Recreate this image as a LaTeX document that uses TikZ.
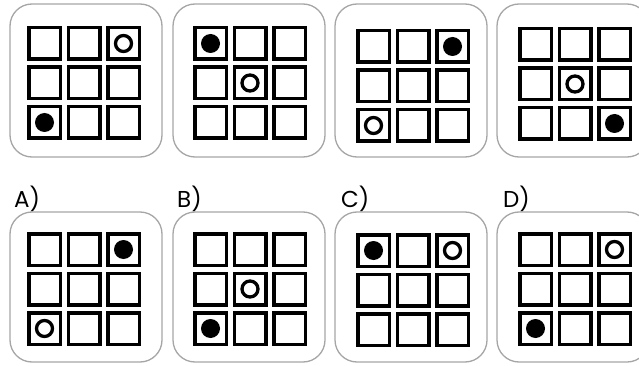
\documentclass[tikz,border=0pt]{standalone}
\usepackage{fontspec}
\setmainfont{Poppins}
\newcommand\mypanel[5]{% panel left, panel top, grid x, grid y, height
  \draw[panel] (#1,#2) rectangle ++(152,#5);
  \foreach \r in {0,1,2}{\foreach \c in {0,1,2}{
    \draw[cell] (#3+1.75+\c*39.5, #4+1.75+\r*39.5) rectangle ++(31.5,31.5);}}}
\newcommand\mydot[4]{\fill (#1+17.5+#4*39.5-39.5, #2+17.5+#3*39.5-39.5) circle (9.5pt);}
\newcommand\myring[4]{\draw[ring] (#1+17.5+#4*39.5-39.5, #2+17.5+#3*39.5-39.5) circle (8pt);}
\begin{document}
\begin{tikzpicture}[x=1pt,y=-1pt,
  panel/.style={draw=black!35, line width=1.3pt, rounded corners=22pt, fill=white},
  cell/.style={draw=black, line width=3.5pt},
  ring/.style={draw=black, line width=3.3pt},
  lbl/.style={font=\fontsize{23}{23}\selectfont, anchor=base west, inner sep=0pt}]
\useasboundingbox[fill=white] (0,0) rectangle (639,366);
% top row
\mypanel{10}{4}{27}{26}{153}
\myring{27}{26}{1}{3}\mydot{27}{26}{3}{1}
\mypanel{173}{4}{193}{26}{153}
\mydot{193}{26}{1}{1}\myring{193}{26}{2}{2}
\mypanel{335}{4}{356}{29}{153}
\mydot{356}{29}{1}{3}\myring{356}{29}{3}{1}
\mypanel{497}{4}{518}{27}{153}
\myring{518}{27}{2}{2}\mydot{518}{27}{3}{3}
% answers
\node[lbl] (la) at (14,207) {A)};
\node[lbl] (lb) at (177,207) {B)};
\node[lbl] (lc) at (341,207) {C)};
\node[lbl] (ld) at (503,207) {D)};
\mypanel{10}{212}{27}{232}{150}
\mydot{27}{232}{1}{3}\myring{27}{232}{3}{1}
\mypanel{173}{212}{193}{232}{150}
\myring{193}{232}{2}{2}\mydot{193}{232}{3}{1}
\mypanel{335}{212}{356}{233}{150}
\mydot{356}{233}{1}{1}\myring{356}{233}{1}{3}
\mypanel{497}{212}{518}{232}{150}
\myring{518}{232}{1}{3}\mydot{518}{232}{3}{1}
\end{tikzpicture}
\end{document}
